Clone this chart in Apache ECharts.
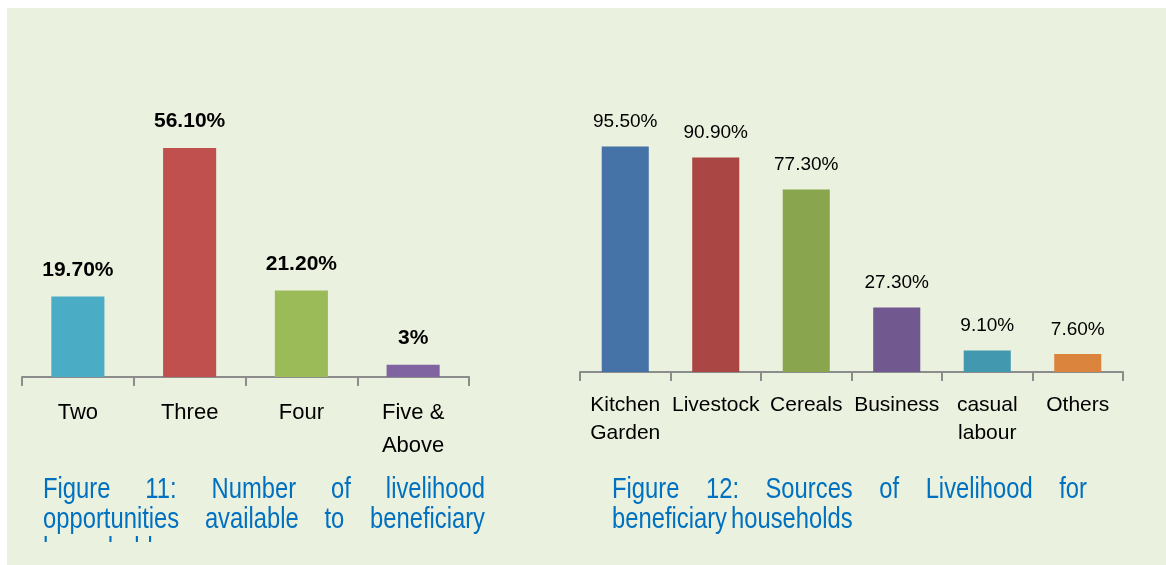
<!DOCTYPE html>
<html><head><meta charset="utf-8">
<script src="https://cdn.jsdelivr.net/npm/echarts@6/dist/echarts.min.js"></script>
<style>html,body{margin:0;padding:0;background:#fff}#c{width:1166px;height:565px}</style>
</head><body><div id="c"></div>
<script>
const leftCategories = ["Two", "Three", "Four", "Five &\nAbove"];
const leftValues = [19.7, 56.1, 21.2, 3];
const leftLabels = ["19.70%", "56.10%", "21.20%", "3%"];
const leftColors = ["#4BACC6", "#C0504D", "#9BBB59", "#8064A2"];

const rightCategories = ["Kitchen\nGarden", "Livestock", "Cereals", "Business", "casual\nlabour", "Others"];
const rightValues = [95.5, 90.9, 77.3, 27.3, 9.1, 7.6];
const rightLabels = ["95.50%", "90.90%", "77.30%", "27.30%", "9.10%", "7.60%"];
const rightColors = ["#4572A7", "#AA4643", "#89A54E", "#71588F", "#4198AF", "#DB843D"];

const leftCaption = [["Figure", "11:", "Number", "of", "livelihood"], ["opportunities", "available", "to", "beneficiary"], ["households"]];
const rightCaption = [["Figure", "12:", "Sources", "of", "Livelihood", "for"], ["beneficiary", "households"]];

const BG = "#EAF1DE";
const FONT = "'Liberation Sans', Arial, sans-serif";
const capFont = "29px 'Liberation Sans'";
const capScale = 0.82;
const capColor = "#0070C0";

const mctx = document.createElement("canvas").getContext("2d");
mctx.font = capFont;
function captionElements(lines, x0, x1, baseY, lineH) {
  const els = [];
  lines.forEach((words, li) => {
    const y = baseY + li * lineH;
    const widths = words.map(w => mctx.measureText(w).width * capScale);
    const total = widths.reduce((a, b) => a + b, 0);
    const isLast = li === lines.length - 1;
    let gap = mctx.measureText(" ").width * capScale * 0.6;
    if (!isLast && words.length > 1) gap = (x1 - x0 - total) / (words.length - 1);
    let x = x0;
    words.forEach((w, i) => {
      els.push({ type: "text", x: x, y: y, z: 10, scaleX: capScale,
        style: { text: w, font: capFont, fill: capColor, textAlign: "left", textVerticalAlign: "middle" } });
      x += widths[i] + gap;
    });
  });
  return els;
}

const chart = echarts.init(document.getElementById("c"), null, { renderer: "canvas" });

function xAxisCfg(gridIndex, cats, fontSize, lineHeight) {
  return {
    type: "category", gridIndex: gridIndex, data: cats,
    axisLine: { show: true, lineStyle: { color: "#8C8C8C", width: 2 } },
    axisTick: { show: true, length: 9, interval: 0, alignWithLabel: false, lineStyle: { color: "#8C8C8C", width: 2 } },
    axisLabel: { interval: 0, margin: 19, color: "#000", fontFamily: FONT, fontSize: fontSize, lineHeight: lineHeight }
  };
}

const option = {
  backgroundColor: "#ffffff",
  animation: false,
  grid: [
    { left: 22, top: 132, width: 447, height: 245 },
    { left: 580, top: 136, width: 543, height: 236 }
  ],
  xAxis: [
    xAxisCfg(0, leftCategories, 22, 33),
    xAxisCfg(1, rightCategories, 21, 28)
  ],
  yAxis: [
    { type: "value", gridIndex: 0, min: 0, max: 60, show: false },
    { type: "value", gridIndex: 1, min: 0, max: 100, show: false }
  ],
  series: [
    {
      type: "bar", xAxisIndex: 0, yAxisIndex: 0, barWidth: "47.5%",
      data: leftValues.map((v, i) => ({ value: v, itemStyle: { color: leftColors[i] } })),
      label: { show: true, position: "top", distance: 16, color: "#000", fontFamily: FONT, fontWeight: "bold", fontSize: 21, lineHeight: 21,
        formatter: p => leftLabels[p.dataIndex] }
    },
    {
      type: "bar", xAxisIndex: 1, yAxisIndex: 1, barWidth: "52%",
      data: rightValues.map((v, i) => ({ value: v, itemStyle: { color: rightColors[i] } })),
      label: { show: true, position: "top", distance: 15, color: "#000", fontFamily: FONT, fontSize: 19, lineHeight: 19,
        formatter: p => rightLabels[p.dataIndex] }
    }
  ],
  graphic: [
    { type: "rect", z: -100, shape: { x: 7, y: 8, width: 1159, height: 557 }, style: { fill: BG } }
  ].concat(
    captionElements(leftCaption, 43, 485, 490, 30),
    captionElements(rightCaption, 612, 1087, 490, 30),
    [{ type: "rect", z: 20, shape: { x: 30, y: 542, width: 480, height: 23 }, style: { fill: BG } }]
  )
};
chart.setOption(option);
</script></body></html>
